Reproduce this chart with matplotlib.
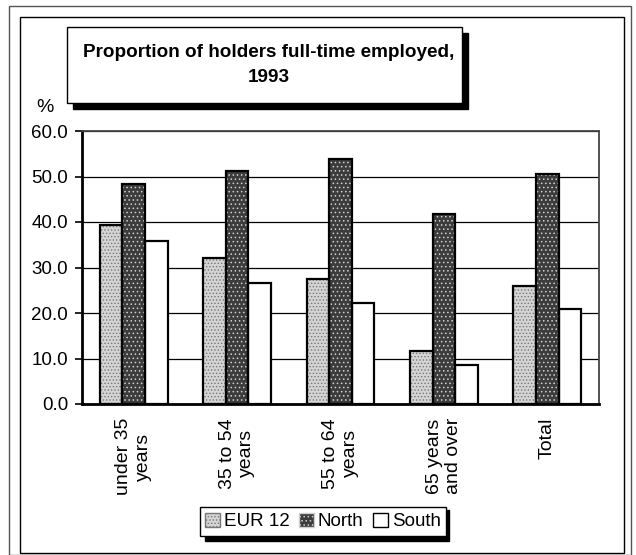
import numpy as np
import matplotlib
matplotlib.use('Agg')
import matplotlib.pyplot as plt
from matplotlib.patches import Rectangle, Patch

plt.rcParams['font.family'] = ['Liberation Sans', 'DejaVu Sans']
plt.rcParams['hatch.linewidth'] = 0.6

categories = ['under 35\nyears', '35 to 54\nyears', '55 to 64\nyears', '65 years\nand over', 'Total']
eur12 = [39.4, 32.0, 27.5, 11.7, 26.0]
north = [48.4, 51.3, 53.9, 41.8, 50.5]
south = [35.8, 26.5, 22.3, 8.6, 20.8]

W, H = 636, 555
fig = plt.figure(figsize=(W / 100, H / 100), dpi=100)

def px(x0, y0, x1, y1):
    # pixel box (top-left origin) -> figure fraction rectangle
    return (x0 / W, 1 - y1 / H, (x1 - x0) / W, (y1 - y0) / H)

# outer and inner frames
fig.patches.append(Rectangle((9 / W, 0), 622 / W, 1 - 6 / H, transform=fig.transFigure,
                             fill=False, ec='#555555', lw=1))
fig.patches.append(Rectangle((20 / W, 2 / H), 604 / W, 1 - 19 / H, transform=fig.transFigure,
                             fill=False, ec='black', lw=1))

ax = fig.add_axes(px(82, 131, 599, 404))
x = np.arange(len(categories))
w = 0.218
styles = [
    (eur12, '#d4d4d4', '#777777', '.....', 'EUR 12'),
    (north, '#3c3c3c', '#cfcfcf', '....', 'North'),
    (south, 'white', 'white', None, 'South'),
]
for i, (vals, fc, hc, hatch, name) in enumerate(styles):
    pos = x + (i - 1) * w
    ax.bar(pos, vals, w, color=fc, edgecolor=hc, hatch=hatch, linewidth=0, zorder=2)
    ax.bar(pos, vals, w, fill=False, edgecolor='black', linewidth=1.6, zorder=3)

ax.set_ylim(0, 60)
ax.set_xlim(-0.5, len(categories) - 0.5)
ax.set_yticks(np.arange(0, 61, 10))
ax.set_yticklabels([f'{v:.1f}' for v in np.arange(0, 61, 10)], fontsize=13.5)
ax.tick_params(axis='y', direction='out', length=5, width=1.2, pad=5)
ax.set_xticks(x)
ax.set_xticklabels(categories, rotation=90, fontsize=14, va='top', ha='center',
                   multialignment='center', linespacing=1.2)
ax.tick_params(axis='x', length=0, pad=10)
ax.grid(axis='y', color='black', linewidth=0.9, zorder=1)
ax.set_axisbelow(True)
for s in ['top', 'right']:
    ax.spines[s].set_linestyle((0, (1, 1)))
    ax.spines[s].set_color('#444444')
    ax.spines[s].set_linewidth(1.3)
for s in ['left', 'bottom']:
    ax.spines[s].set_linewidth(2)

fig.text(45 / W, 1 - 107 / H, '%', fontsize=14, ha='center', va='center')

# title box with drop shadow
fig.patches.append(Rectangle((73 / W, 1 - 109 / H), 395 / W, 76 / H, transform=fig.transFigure,
                             fc='black', ec='black', zorder=1))
fig.patches.append(Rectangle((67 / W, 1 - 103 / H), 395 / W, 76 / H, transform=fig.transFigure,
                             fc='white', ec='black', lw=1, zorder=2))
fig.text(269 / W, 1 - 65 / H, 'Proportion of holders full-time employed,\n1993', fontsize=13.6,
         fontweight='bold', ha='center', va='center', linespacing=1.6, zorder=3)

# legend with drop shadow
handles = [Patch(facecolor=fc, edgecolor=hc if hatch else 'black', hatch=hatch, label=name)
           for _, fc, hc, hatch, name in styles]
fig.patches.append(Rectangle((205 / W, 1 - 541 / H), 244 / W, 31 / H, transform=fig.transFigure,
                             fc='black', ec='black', zorder=1))
leg = fig.legend(handles=handles, loc='center', bbox_to_anchor=(323 / W, 1 - 521.5 / H),
                 ncol=3, fontsize=13.5, frameon=True, fancybox=False, edgecolor='black',
                 handlelength=0.8, handleheight=0.8, handletextpad=0.2, columnspacing=0.5,
                 borderpad=0.3, framealpha=1)
leg.get_frame().set_linewidth(1)
leg.set_zorder(2)

fig.savefig('out.png', dpi=100)
